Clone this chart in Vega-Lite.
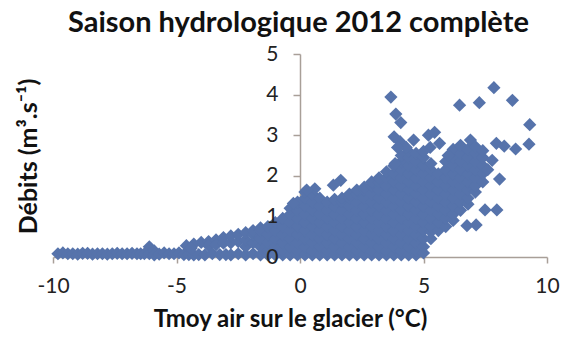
{"$schema":"https://vega.github.io/schema/vega-lite/v6.json","width":494,"height":203,"autosize":"none","padding":{"left":53,"top":54,"right":14,"bottom":81},"background":"white",
"title":{"text":"Saison hydrologique 2012 complète","font":"Lato","fontWeight":"bold","fontSize":29,"color":"#111","anchor":"start","frame":"group","dx":15,"offset":5},
"data":{"values":[
{"x":-9.8,"y":0.08},{"x":-9.6,"y":0.1},{"x":-9.4,"y":0.08},{"x":-9.2,"y":0.08},{"x":-9,"y":0.07},{"x":-8.8,"y":0.09},{"x":-8.6,"y":0.09},{"x":-8.4,"y":0.07},{"x":-8.2,"y":0.08},{"x":-8,"y":0.08},{"x":-7.8,"y":0.07},{"x":-7.6,"y":0.08},{"x":-7.4,"y":0.09},{"x":-7.2,"y":0.08},{"x":-7,"y":0.08},{"x":-6.8,"y":0.09},{"x":-6.6,"y":0.08},{"x":-6.45,"y":0.08},{"x":-6.3,"y":0.08},{"x":-6.1,"y":0.25},{"x":-6.1,"y":0.08},{"x":-5.9,"y":0.15},{"x":-5.9,"y":0.05},{"x":-5.7,"y":0.07},{"x":-5.5,"y":0.1},{"x":-5.3,"y":0.08},{"x":-5.1,"y":0.08},{"x":-4.9,"y":0.1},{"x":-4.7,"y":0.06},{"x":-4.5,"y":0.06},
{"x":-4.6,"y":0.28},{"x":-4.3,"y":0.05},{"x":-4.3,"y":0.32},{"x":-4.1,"y":0.06},{"x":-4,"y":0.36},{"x":-4.4,"y":0.22},{"x":-3.85,"y":0.05},{"x":-3.7,"y":0.38},{"x":-3.7,"y":0.28},{"x":-3.55,"y":0.08},{"x":-3.4,"y":0.42},{"x":-3.4,"y":0.3},{"x":-3.25,"y":0.06},{"x":-3.1,"y":0.48},{"x":-3.1,"y":0.34},{"x":-3,"y":0.06},
{"x":-2.8,"y":0.05},{"x":-2.8,"y":0.35},{"x":-2.8,"y":0.52},{"x":-2.5,"y":0.08},{"x":-2.5,"y":0.38},{"x":-2.5,"y":0.56},{"x":-2.2,"y":0.05},{"x":-2.2,"y":0.25},{"x":-2.2,"y":0.42},{"x":-2.2,"y":0.6},{"x":-1.9,"y":0.08},{"x":-1.9,"y":0.35},{"x":-1.9,"y":0.55},{"x":-1.9,"y":0.65},
{"x":-1.6,"y":0.05},{"x":-1.6,"y":0.25},{"x":-1.6,"y":0.45},{"x":-1.6,"y":0.65},{"x":-1.6,"y":0.72},{"x":-1.3,"y":0.05},{"x":-1.3,"y":0.15},{"x":-1.3,"y":0.35},{"x":-1.3,"y":0.55},{"x":-1.3,"y":0.75},{"x":-1,"y":0.05},{"x":-1,"y":0.25},{"x":-1,"y":0.45},{"x":-1,"y":0.65},{"x":-1,"y":0.85},
{"x":-0.7,"y":0.05},{"x":-0.7,"y":0.15},{"x":-0.7,"y":0.35},{"x":-0.7,"y":0.55},{"x":-0.7,"y":0.75},{"x":-0.7,"y":0.95},{"x":-0.4,"y":0.05},{"x":-0.4,"y":0.25},{"x":-0.4,"y":0.45},{"x":-0.4,"y":0.65},{"x":-0.4,"y":0.85},{"x":-0.4,"y":1.05},{"x":-0.4,"y":1.2},
{"x":-0.1,"y":0.05},{"x":-0.1,"y":0.15},{"x":-0.1,"y":0.35},{"x":-0.1,"y":0.55},{"x":-0.1,"y":0.75},{"x":-0.1,"y":0.95},{"x":-0.1,"y":1.15},{"x":-0.1,"y":1.35},
{"x":0.2,"y":0.05},{"x":0.2,"y":0.25},{"x":0.2,"y":0.45},{"x":0.2,"y":0.65},{"x":0.2,"y":0.85},{"x":0.2,"y":1.05},{"x":0.2,"y":1.25},{"x":0.2,"y":1.45},{"x":0.2,"y":1.6},
{"x":0.5,"y":0.05},{"x":0.5,"y":0.15},{"x":0.5,"y":0.35},{"x":0.5,"y":0.55},{"x":0.5,"y":0.75},{"x":0.5,"y":0.95},{"x":0.5,"y":1.15},{"x":0.5,"y":1.35},{"x":0.5,"y":1.55},{"x":0.6,"y":1.68},
{"x":0.8,"y":0.05},{"x":0.8,"y":0.25},{"x":0.8,"y":0.45},{"x":0.8,"y":0.65},{"x":0.8,"y":0.85},{"x":0.8,"y":1.05},{"x":0.8,"y":1.25},{"x":0.8,"y":1.45},
{"x":1.1,"y":0.05},{"x":1.1,"y":0.15},{"x":1.1,"y":0.35},{"x":1.1,"y":0.55},{"x":1.1,"y":0.75},{"x":1.1,"y":0.95},{"x":1.1,"y":1.15},{"x":1.1,"y":1.35},
{"x":1.4,"y":0.05},{"x":1.4,"y":0.25},{"x":1.4,"y":0.45},{"x":1.4,"y":0.65},{"x":1.4,"y":0.85},{"x":1.4,"y":1.05},{"x":1.4,"y":1.25},{"x":1.4,"y":1.42},
{"x":1.7,"y":0.05},{"x":1.7,"y":0.15},{"x":1.7,"y":0.35},{"x":1.7,"y":0.55},{"x":1.7,"y":0.75},{"x":1.7,"y":0.95},{"x":1.7,"y":1.15},{"x":1.7,"y":1.35},{"x":1.7,"y":1.45},
{"x":2,"y":0.05},{"x":2,"y":0.25},{"x":2,"y":0.45},{"x":2,"y":0.65},{"x":2,"y":0.85},{"x":2,"y":1.05},{"x":2,"y":1.25},{"x":2,"y":1.45},{"x":2,"y":1.55},
{"x":2.3,"y":0.05},{"x":2.3,"y":0.15},{"x":2.3,"y":0.35},{"x":2.3,"y":0.55},{"x":2.3,"y":0.75},{"x":2.3,"y":0.95},{"x":2.3,"y":1.15},{"x":2.3,"y":1.35},{"x":2.3,"y":1.55},{"x":2.3,"y":1.65},
{"x":2.6,"y":0.05},{"x":2.6,"y":0.25},{"x":2.6,"y":0.45},{"x":2.6,"y":0.65},{"x":2.6,"y":0.85},{"x":2.6,"y":1.05},{"x":2.6,"y":1.25},{"x":2.6,"y":1.45},{"x":2.6,"y":1.65},{"x":2.6,"y":1.72},
{"x":2.9,"y":0.05},{"x":2.9,"y":0.15},{"x":2.9,"y":0.35},{"x":2.9,"y":0.55},{"x":2.9,"y":0.75},{"x":2.9,"y":0.95},{"x":2.9,"y":1.15},{"x":2.9,"y":1.35},{"x":2.9,"y":1.55},{"x":2.9,"y":1.75},{"x":2.9,"y":1.85},
{"x":3.2,"y":0.05},{"x":3.2,"y":0.25},{"x":3.2,"y":0.45},{"x":3.2,"y":0.65},{"x":3.2,"y":0.85},{"x":3.2,"y":1.05},{"x":3.2,"y":1.25},{"x":3.2,"y":1.45},{"x":3.2,"y":1.65},{"x":3.2,"y":1.85},{"x":3.2,"y":1.95},
{"x":3.5,"y":0.05},{"x":3.5,"y":0.15},{"x":3.5,"y":0.35},{"x":3.5,"y":0.55},{"x":3.5,"y":0.75},{"x":3.5,"y":0.95},{"x":3.5,"y":1.15},{"x":3.5,"y":1.35},{"x":3.5,"y":1.55},{"x":3.5,"y":1.75},{"x":3.5,"y":1.95},{"x":3.5,"y":2.1},
{"x":3.8,"y":0.05},{"x":3.8,"y":0.25},{"x":3.8,"y":0.45},{"x":3.8,"y":0.65},{"x":3.8,"y":0.85},{"x":3.8,"y":1.05},{"x":3.8,"y":1.25},{"x":3.8,"y":1.45},{"x":3.8,"y":1.65},{"x":3.8,"y":1.85},{"x":3.8,"y":2.05},{"x":3.8,"y":2.25},
{"x":4.1,"y":0.05},{"x":4.1,"y":0.15},{"x":4.1,"y":0.35},{"x":4.1,"y":0.55},{"x":4.1,"y":0.75},{"x":4.1,"y":0.95},{"x":4.1,"y":1.15},{"x":4.1,"y":1.35},{"x":4.1,"y":1.55},{"x":4.1,"y":1.75},{"x":4.1,"y":1.95},{"x":4.1,"y":2.15},{"x":4.1,"y":2.35},{"x":4.1,"y":2.5},
{"x":4.4,"y":0.05},{"x":4.4,"y":0.25},{"x":4.4,"y":0.45},{"x":4.4,"y":0.65},{"x":4.4,"y":0.85},{"x":4.4,"y":1.05},{"x":4.4,"y":1.25},{"x":4.4,"y":1.45},{"x":4.4,"y":1.65},{"x":4.4,"y":1.85},{"x":4.4,"y":2.05},{"x":4.4,"y":2.25},{"x":4.4,"y":2.45},{"x":4.4,"y":2.6},
{"x":4.7,"y":0.05},{"x":4.7,"y":0.15},{"x":4.7,"y":0.35},{"x":4.7,"y":0.55},{"x":4.7,"y":0.75},{"x":4.7,"y":0.95},{"x":4.7,"y":1.15},{"x":4.7,"y":1.35},{"x":4.7,"y":1.55},{"x":4.7,"y":1.75},{"x":4.7,"y":1.95},{"x":4.7,"y":2.15},{"x":4.7,"y":2.35},{"x":4.7,"y":2.55},
{"x":5,"y":0.1},{"x":5,"y":0.25},{"x":5,"y":0.45},{"x":5,"y":0.65},{"x":5,"y":0.85},{"x":5,"y":1.05},{"x":5,"y":1.25},{"x":5,"y":1.45},{"x":5,"y":1.65},{"x":5,"y":1.85},{"x":5,"y":2.05},{"x":5,"y":2.25},{"x":5,"y":2.45},
{"x":5.3,"y":0.45},{"x":5.3,"y":0.62},{"x":5.3,"y":0.75},{"x":5.3,"y":0.95},{"x":5.3,"y":1.15},{"x":5.3,"y":1.35},{"x":5.3,"y":1.55},{"x":5.3,"y":1.75},{"x":5.3,"y":1.95},{"x":5.3,"y":2.15},
{"x":5.6,"y":0.65},{"x":5.6,"y":0.85},{"x":5.6,"y":1.05},{"x":5.6,"y":1.25},{"x":5.6,"y":1.45},{"x":5.6,"y":1.65},{"x":5.6,"y":1.85},{"x":5.6,"y":2.05},
{"x":5.9,"y":0.75},{"x":5.9,"y":0.95},{"x":5.9,"y":1.15},{"x":5.9,"y":1.35},{"x":5.9,"y":1.55},{"x":5.9,"y":1.75},{"x":5.9,"y":1.95},{"x":5.9,"y":2.15},{"x":5.9,"y":2.35},
{"x":6.2,"y":0.9},{"x":6.2,"y":1.05},{"x":6.2,"y":1.25},{"x":6.2,"y":1.45},{"x":6.2,"y":1.65},{"x":6.2,"y":1.85},{"x":6.2,"y":2.05},{"x":6.2,"y":2.25},{"x":6.2,"y":2.45},{"x":6.2,"y":2.65},
{"x":6.5,"y":1.15},{"x":6.5,"y":1.35},{"x":6.5,"y":1.55},{"x":6.5,"y":1.75},{"x":6.5,"y":1.95},{"x":6.5,"y":2.15},{"x":6.5,"y":2.35},{"x":6.5,"y":2.55},{"x":6.5,"y":2.75},
{"x":6.8,"y":1.3},{"x":6.8,"y":1.45},{"x":6.8,"y":1.65},{"x":6.8,"y":1.85},{"x":6.8,"y":2.05},{"x":6.8,"y":2.25},{"x":6.8,"y":2.45},{"x":6.8,"y":2.65},{"x":6.9,"y":2.88},
{"x":7.1,"y":1.6},{"x":7.1,"y":1.75},{"x":7.1,"y":1.95},{"x":7.1,"y":2.15},{"x":7.1,"y":2.35},{"x":7.1,"y":2.55},{"x":7.1,"y":2.72},
{"x":7.4,"y":1.85},{"x":7.4,"y":2.05},{"x":7.4,"y":2.25},{"x":7.4,"y":2.45},{"x":7.4,"y":2.62},{"x":7.6,"y":2.15},
{"x":3.68,"y":3.94},{"x":3.88,"y":3.52},{"x":4.08,"y":3.31},{"x":3.81,"y":2.96},{"x":4.05,"y":2.84},{"x":4.6,"y":2.88},{"x":5.2,"y":3},{"x":5.45,"y":3.07},{"x":5.65,"y":2.8},{"x":5.27,"y":2.7},{"x":6.46,"y":3.74},{"x":7.26,"y":3.8},{"x":7.85,"y":4.17},{"x":8.6,"y":3.86},{"x":9.3,"y":3.26},{"x":9.27,"y":2.78},{"x":7.95,"y":2.8},{"x":8.27,"y":2.73},{"x":8.73,"y":2.66},{"x":7.78,"y":2.38},{"x":8.08,"y":1.92},{"x":7.49,"y":1.16},{"x":7.97,"y":1.16},{"x":6.76,"y":0.77},{"x":7.13,"y":0.79},{"x":1.35,"y":1.77},{"x":1.65,"y":1.89},{"x":0.27,"y":1.65},{"x":-0.27,"y":1.32},{"x":3.85,"y":2.3},{"x":4.3,"y":2.7},{"x":3.95,"y":2.7},{"x":5,"y":2.6},{"x":6,"y":2.5},{"x":5.3,"y":2.3}
]},
"encoding":{"x":{"field":"x","type":"quantitative","scale":{"domain":[-10,10],"nice":false},"axis":{"values":[-10,-5,0,5,10],"labelExpr":"''+datum.value","labelFlush":false,"grid":false,"title":"Tmoy air sur le glacier (°C)","titleFont":"Lato","titleFontWeight":"bold","titleFontSize":24,"titleColor":"#111","titleX":237,"titleY":69,"titleBaseline":"alphabetic","labelFont":"Lato","labelFontSize":21,"labelColor":"#222","labelPadding":12,"domainColor":"#a89f98","tickColor":"#a89f98","domainWidth":1.5,"tickWidth":1.5,"tickSize":6,"zindex":0}}},
"layer":[
{"mark":{"type":"point","shape":"diamond","filled":true,"size":175,"opacity":1,"color":"#5673ab"},
"encoding":{"y":{"field":"y","type":"quantitative","scale":{"domain":[0,5],"nice":false},"axis":{"offset":-247,"values":[0,1,2,3,4,5],"grid":false,"labels":false,"title":null,"domainColor":"#a89f98","tickColor":"#a89f98","domainWidth":1.5,"tickWidth":1.5,"tickSize":7,"zindex":0}}}},
{"mark":{"type":"point","opacity":0},
"encoding":{"y":{"field":"y","type":"quantitative","scale":{"domain":[0,5],"nice":false},"axis":{"orient":"left","offset":-247,"values":[0,1,2,3,4,5],"grid":false,"domain":false,"ticks":false,"labelFlush":false,"labelFont":"Lato","labelFontSize":21,"labelColor":"#222","labelPadding":22,"title":"Débits (m³.s⁻¹)","titleFont":"Lato","titleFontWeight":"bold","titleFontSize":25,"titleColor":"#111","titleX":-259,"titleY":102,"zindex":1}}}}
],
"resolve":{"axis":{"y":"independent"}},
"config":{"view":{"stroke":null}}}
